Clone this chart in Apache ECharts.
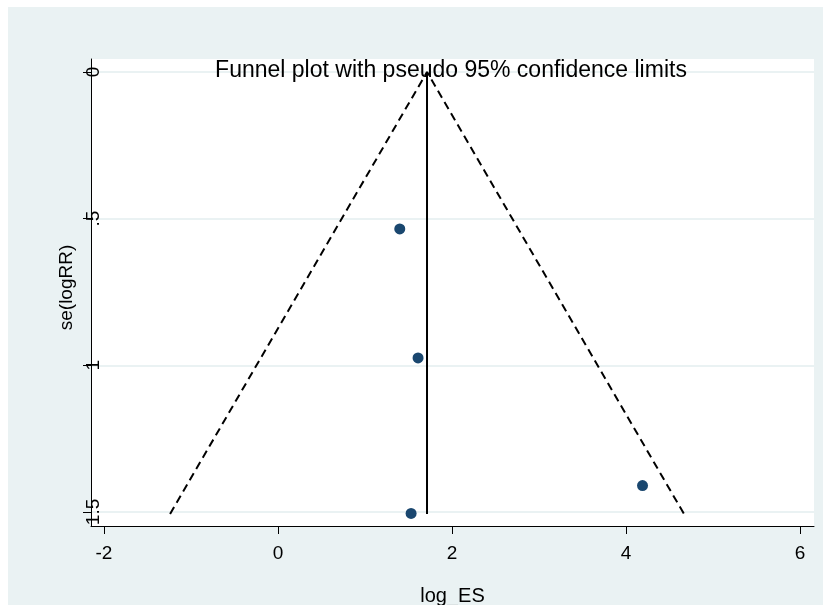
<!DOCTYPE html>
<html>
<head>
<meta charset="utf-8">
<title>Funnel plot</title>
<script src="https://cdn.jsdelivr.net/npm/echarts@6/dist/echarts.min.js"></script>
<style>
  html, body { margin: 0; padding: 0; background: #ffffff; }
  #chart { width: 823px; height: 605px; }
</style>
</head>
<body>
<div id="chart"></div>
<script>
// Study estimates: log effect size and its standard error
const studyLogES = [1.40, 1.61, 1.53, 4.19];
const studySE    = [0.535, 0.975, 1.505, 1.41];

// Pooled estimate line and pseudo 95% confidence limits (log_ES, se)
const pooledLine  = [[1.713, 0], [1.713, 1.507]];
const funnelLimit = [[-1.24, 1.507], [1.713, 0], [4.667, 1.507]];

// Axis ticks
const xTicks = [-2, 0, 2, 4, 6];
const yTicks = [0, 0.5, 1, 1.5];
const yTickText = { '0': '0', '0.5': '.5', '1': '1', '1.5': '1.5' };

const FONT = 'Liberation Sans, Arial, Helvetica, sans-serif';
const BG = '#eaf2f3';

const chart = echarts.init(document.getElementById('chart'), null, { renderer: 'canvas' });

chart.setOption({
  backgroundColor: '#ffffff',
  animation: false,
  graphic: [{
    type: 'rect',
    z: -10,
    silent: true,
    shape: { x: 8, y: 7, width: 815, height: 598 },
    style: { fill: BG }
  }],
  title: {
    text: 'Funnel plot with pseudo 95% confidence limits',
    left: 451,
    top: 59,
    textAlign: 'center',
    padding: 0,
    textStyle: { fontFamily: FONT, fontSize: 23, fontWeight: 'normal', color: '#000000' }
  },
  grid: {
    left: 91, right: 9, top: 59, bottom: 79,
    outerBoundsMode: 'none',
    containLabel: false,
    show: true, backgroundColor: '#ffffff', borderWidth: 0
  },
  xAxis: {
    type: 'value',
    min: -2.149, max: 6.161,
    name: 'log_ES',
    nameLocation: 'middle',
    nameGap: 60,
    nameTextStyle: { fontFamily: FONT, fontSize: 20, color: '#000000' },
    axisLine: { show: true, onZero: false, lineStyle: { color: '#000000', width: 1 } },
    axisTick: { show: true, length: 8, customValues: xTicks, lineStyle: { color: '#000000', width: 1 } },
    axisLabel: {
      customValues: xTicks, margin: 18,
      fontFamily: FONT, fontSize: 19, color: '#000000',
      formatter: v => String(v)
    },
    splitLine: { show: false }
  },
  yAxis: {
    type: 'value',
    inverse: true,
    min: -0.0443, max: 1.548,
    name: 'se(logRR)',
    nameLocation: 'middle',
    nameGap: 8,
    nameTextStyle: { fontFamily: FONT, fontSize: 19, color: '#000000', padding: [0, 0, 0, 10] },
    axisLine: { show: true, onZero: false, lineStyle: { color: '#000000', width: 1 } },
    axisTick: { show: true, length: 8, customValues: yTicks, lineStyle: { color: '#000000', width: 1 } },
    axisLabel: {
      customValues: yTicks, rotate: 90, margin: -12,
      fontFamily: FONT, fontSize: 19, color: '#000000',
      formatter: v => yTickText[String(v)] ?? String(v)
    },
    splitLine: { show: true, lineStyle: { color: BG, width: 2 } }
  },
  series: [
    {
      name: 'limits',
      type: 'line',
      data: funnelLimit,
      symbol: 'none',
      silent: true,
      lineStyle: { color: '#000000', width: 2, type: [8, 5] },
      z: 3
    },
    {
      name: 'pooled',
      type: 'line',
      data: pooledLine,
      symbol: 'none',
      silent: true,
      lineStyle: { color: '#000000', width: 2 },
      z: 3
    },
    {
      name: 'studies',
      type: 'scatter',
      data: studyLogES.map((x, i) => [x, studySE[i]]),
      symbol: 'circle',
      symbolSize: 11,
      itemStyle: { color: '#1a476f', opacity: 1 },
      z: 4
    }
  ]
});
</script>
</body>
</html>
